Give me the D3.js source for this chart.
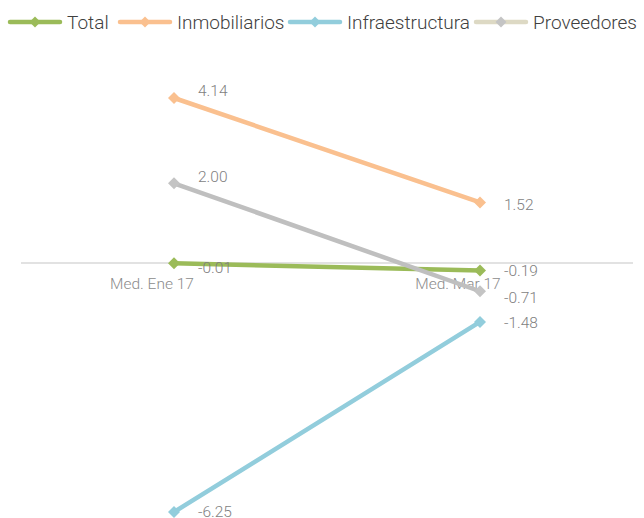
<!DOCTYPE html>
<html>
<head>
<meta charset="utf-8">
<script src="https://cdn.jsdelivr.net/npm/d3@7"></script>
<style>
  html, body { margin: 0; padding: 0; background: #fff; }
  svg { display: block; }
</style>
</head>
<body>
<svg id="chart" width="644" height="518"></svg>
<script>
// Periods on the horizontal axis
const periods = ["Med. Ene 17", "Med. Mar 17"];

// Series names and values per period
const seriesNames = ["Total", "Inmobiliarios", "Infraestructura", "Proveedores"];
const totalValues = [-0.01, -0.19];
const inmobiliariosValues = [4.14, 1.52];
const infraestructuraValues = [-6.25, -1.48];
const proveedoresValues = [2.00, -0.71];

const seriesValues = [totalValues, inmobiliariosValues, infraestructuraValues, proveedoresValues];
const lineColors = ["#9bbb59", "#fac08f", "#92cddc", "#bfbfbf"];
const legendLineColors = ["#9bbb59", "#fac08f", "#92cddc", "#ddd9c4"];
const markerColors = ["#9bbb59", "#fac08f", "#92cddc", "#c4c4c4"];
// vertical nudges of the value labels, per series and period
const labelNudge = [[4, 0], [-7, 2], [0, 1], [-7, 6]];

const svg = d3.select("#chart");

const x = d3.scalePoint().domain(periods).range([21, 633]).padding(0.5);
const y = d3.scaleLinear().domain([-6.25, 4.14]).range([512, 98]);

const fontFamily = "Roboto, 'Liberation Sans', Arial, sans-serif";
const fmt = d => d3.format(".2f")(d).replace("\u2212", "-");

// zero baseline
svg.append("line")
  .attr("x1", 21).attr("x2", 633)
  .attr("y1", y(0)).attr("y2", y(0))
  .attr("stroke", "#d9d9d9").attr("stroke-width", 1.5);

// category labels
svg.append("g").selectAll("text")
  .data(periods)
  .join("text")
  .attr("x", d => x(d) - 22)
  .attr("y", y(0) + 26)
  .attr("text-anchor", "middle")
  .attr("font-family", fontFamily)
  .attr("font-weight", 300)
  .attr("font-size", 15.5)
  .attr("fill", "#8c8c8c")
  .text(d => d);

const lineGen = d3.line().x((d, i) => x(periods[i])).y(d => y(d));

seriesValues.forEach((vals, s) => {
  const g = svg.append("g");
  g.append("path")
    .datum(vals)
    .attr("d", lineGen)
    .attr("fill", "none")
    .attr("stroke", lineColors[s])
    .attr("stroke-width", 4.5)
    .attr("stroke-linecap", "round");
  g.selectAll("path.m")
    .data(vals)
    .join("path")
    .attr("class", "m")
    .attr("d", d3.symbol().type(d3.symbolSquare).size(72))
    .attr("transform", (d, i) => `translate(${x(periods[i])},${y(d)}) rotate(45)`)
    .attr("fill", markerColors[s]);
});

// value labels
seriesValues.forEach((vals, s) => {
  svg.append("g").selectAll("text")
    .data(vals)
    .join("text")
    .attr("x", (d, i) => x(periods[i]) + 24)
    .attr("y", (d, i) => y(d) + labelNudge[s][i])
    .attr("dy", "0.35em")
    .attr("font-family", fontFamily)
    .attr("font-weight", 300)
    .attr("font-size", 15.5)
    .attr("fill", "#7f7f7f")
    .text(fmt);
});

// legend
const legendX = [10, 120, 290, 476];
const legend = svg.append("g");
seriesNames.forEach((name, s) => {
  const lg = legend.append("g").attr("transform", `translate(${legendX[s]},22)`);
  lg.append("line")
    .attr("x1", 0).attr("x2", 50)
    .attr("stroke", legendLineColors[s])
    .attr("stroke-width", 4.5)
    .attr("stroke-linecap", "round");
  lg.append("path")
    .attr("d", d3.symbol().type(d3.symbolSquare).size(60))
    .attr("transform", "translate(25,0) rotate(45)")
    .attr("fill", markerColors[s]);
  lg.append("text")
    .attr("x", 57)
    .attr("dy", "0.35em")
    .attr("font-family", fontFamily)
    .attr("font-weight", 300)
    .attr("font-size", 19)
    .attr("fill", "#404040")
    .text(name);
});
</script>
</body>
</html>
